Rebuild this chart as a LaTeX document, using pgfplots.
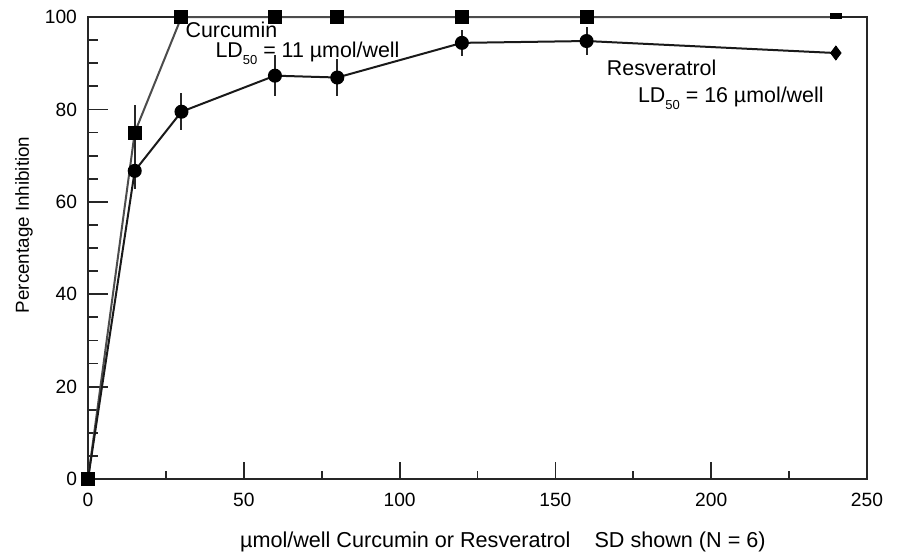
\documentclass[border=0pt]{standalone}
\usepackage{fontspec}
\setmainfont{Liberation Sans}
\usepackage{pgfplots}
\pgfplotsset{compat=1.18}

\newcommand{\LD}{LD\raisebox{-3.5pt}{\fontsize{6.5}{6.5}\selectfont 50}}

\begin{document}
\begin{tikzpicture}
\path[use as bounding box] (-44pt,-37pt) rectangle (406pt,239.5pt);
\begin{axis}[
  at={(0,0)}, anchor=south west,
  scale only axis, width=389.5pt, height=231pt,
  xmin=0, xmax=250, ymin=0, ymax=100,
  xtick={0,50,...,250}, minor xtick={25,75,125,175,225},
  ytick={0,20,...,100},
  minor ytick={5,10,15,25,30,35,45,50,55,65,70,75,85,90,95},
  tick align=inside, xtick pos=bottom, ytick pos=left,
  axis line style={line width=1pt, black!85},
  major tick length=10pt, minor tick length=5pt,
  xtick style={line width=0.9pt, black!85, /pgfplots/major tick length=8.5pt, /pgfplots/minor tick length=4pt},
  ytick style={line width=0.9pt, black!85},
  /pgf/number format/assume math mode=true,
  ticklabel style={font=\fontsize{9.6}{12}\selectfont},
  xticklabel style={yshift=-3.5pt},
  yticklabel style={xshift=-2pt},
  xlabel={µmol/well Curcumin or Resveratrol\hspace{9pt} SD shown (N = 6)},
  xlabel style={at={(axis description cs:0,0)}, anchor=base west,
    xshift=72.5pt, yshift=-34pt, font=\fontsize{10.8}{12}\selectfont},
  ylabel={Percentage Inhibition},
  ylabel style={at={(axis description cs:-0.082,0.55)}, anchor=center,
    font=\fontsize{9.4}{11}\selectfont},
  clip=false,
]
% Curcumin
\addplot[black!70, line width=1pt, mark=square*, mark size=3pt,
  mark indices={1,2,3,4,5,6,7},
  mark options={solid, fill=black, draw=black},
  error bars/.cd, y dir=both, y explicit,
  error bar style={line width=1pt, black!85}, error mark=none]
  coordinates {
    (0,0) +- (0,0)
    (15,75) +- (0,6)
    (30,100) +- (0,0)
    (60,100) +- (0,0)
    (80,100) +- (0,0)
    (120,100) +- (0,0)
    (160,100) +- (0,0)
    (240,100) +- (0,0)
  };
\addplot[only marks, mark=-, mark size=3pt,
  mark options={draw=black, line width=3pt}]
  coordinates {(240,100.3)};
% Resveratrol
\addplot[black!90, line width=1pt, mark=*, mark size=3pt,
  mark indices={2,3,4,5,6,7},
  mark options={solid, fill=black, draw=black},
  error bars/.cd, y dir=both, y explicit,
  error bar style={line width=1pt, black!85}, error mark=none]
  coordinates {
    (0,0) +- (0,0)
    (15,66.7) +- (0,4)
    (30,79.5) +- (0,4)
    (60,87.3) +- (0,4.4)
    (80,86.9) +- (0,4)
    (120,94.4) +- (0,2.8)
    (160,94.8) +- (0,3)
    (240,92.2) +- (0,1.5)
  };
\addplot[only marks, mark=diamond*, mark size=3.5pt,
  mark options={fill=black, draw=black}]
  coordinates {(240,92.2)};

\node[anchor=base west, font=\fontsize{10.7}{12}\selectfont, inner sep=0pt]
  at (axis cs:31.2,95.5) {Curcumin};
\node[anchor=base west, font=\fontsize{10.7}{12}\selectfont, inner sep=0pt]
  at (axis cs:40.8,91.3) {\LD{} = 11 µmol/well};
\node[anchor=base west, font=\fontsize{10.7}{12}\selectfont, inner sep=0pt]
  at (axis cs:166.4,87.4) {Resveratrol};
\node[anchor=base west, font=\fontsize{10.7}{12}\selectfont, inner sep=0pt]
  at (axis cs:176.4,81.6) {\LD{} = 16 µmol/well};
\end{axis}
\end{tikzpicture}
\end{document}
